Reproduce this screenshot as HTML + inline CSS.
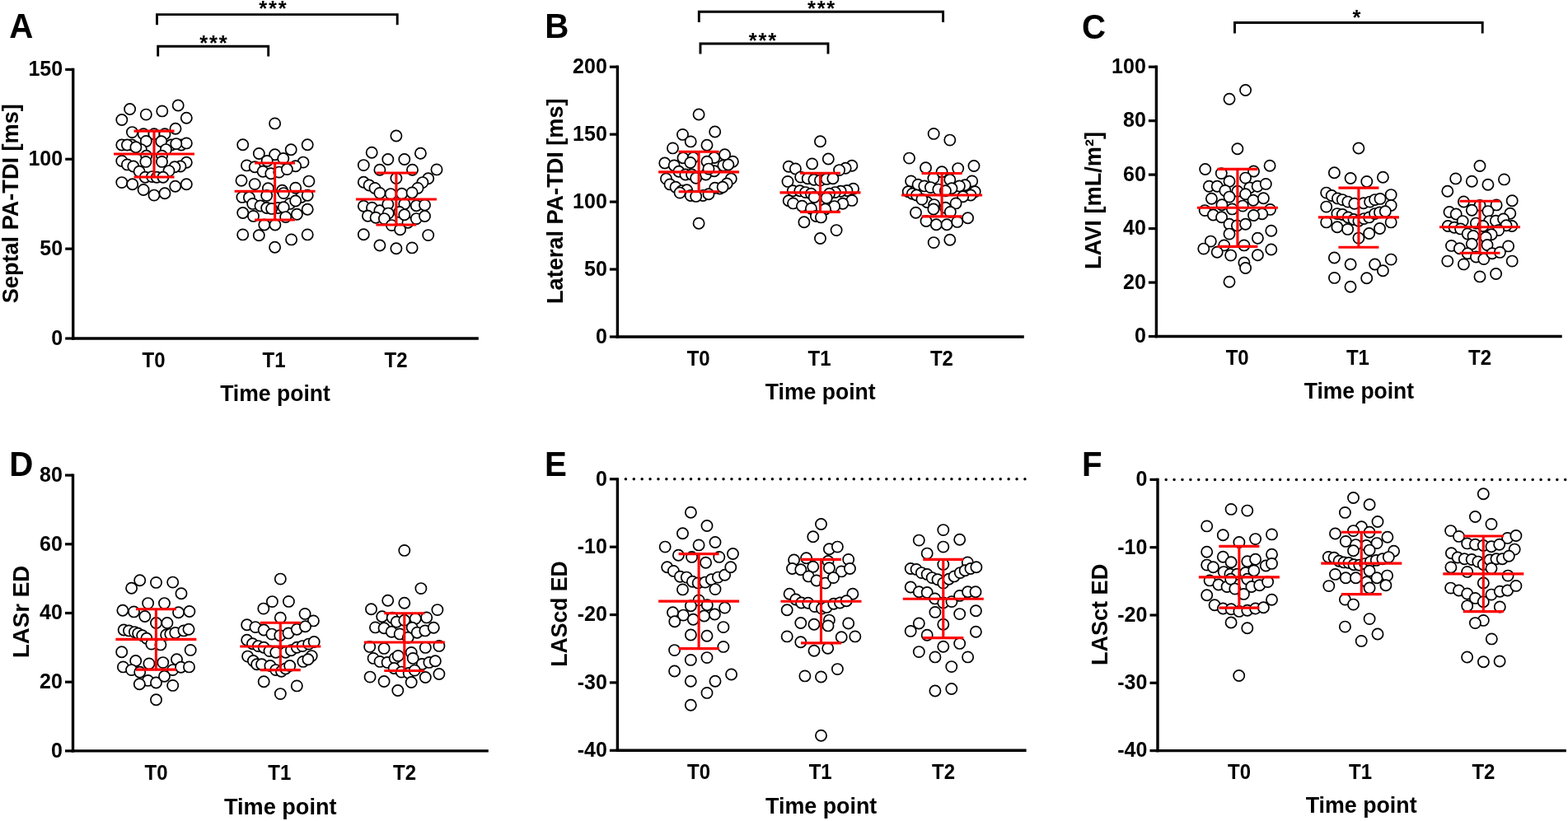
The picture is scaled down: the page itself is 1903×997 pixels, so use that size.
<!DOCTYPE html>
<html><head><meta charset="utf-8"><title>Figure</title>
<style>html,body{margin:0;padding:0;background:#fff;overflow:hidden;}svg{display:block;}
text{font-family:"Liberation Sans", Arial, sans-serif;fill:#000;}
circle{fill:#fff;stroke:#000;stroke-width:1.7;}</style></head>
<body><svg width="1903" height="997" viewBox="0 0 1903 997">
<rect width="1903" height="997" fill="#fff"/>
<line x1="88.70" y1="82.80" x2="88.70" y2="412.70" stroke="#000" stroke-width="3.4"/>
<line x1="87.00" y1="411.00" x2="580.80" y2="411.00" stroke="#000" stroke-width="3.4"/>
<line x1="79.20" y1="411.00" x2="88.70" y2="411.00" stroke="#000" stroke-width="3.2"/>
<text x="76.10" y="418.80" text-anchor="end" font-size="25" font-weight="bold">0</text>
<line x1="79.20" y1="302.13" x2="88.70" y2="302.13" stroke="#000" stroke-width="3.2"/>
<text x="76.10" y="309.93" text-anchor="end" font-size="25" font-weight="bold">50</text>
<line x1="79.20" y1="193.27" x2="88.70" y2="193.27" stroke="#000" stroke-width="3.2"/>
<text x="76.10" y="201.07" text-anchor="end" font-size="25" font-weight="bold">100</text>
<line x1="79.20" y1="84.40" x2="88.70" y2="84.40" stroke="#000" stroke-width="3.2"/>
<text x="76.10" y="92.20" text-anchor="end" font-size="25" font-weight="bold">150</text>
<text transform="translate(186.60,445.80) scale(0.94,1)" text-anchor="middle" font-size="25.5" font-weight="bold">T0</text>
<text transform="translate(332.60,445.80) scale(0.94,1)" text-anchor="middle" font-size="25.5" font-weight="bold">T1</text>
<text transform="translate(480.60,445.80) scale(0.94,1)" text-anchor="middle" font-size="25.5" font-weight="bold">T2</text>
<text x="334.00" y="486.90" text-anchor="middle" font-size="27.6" font-weight="bold" textLength="133.7" lengthAdjust="spacingAndGlyphs">Time point</text>
<text transform="translate(21.60,247.20) rotate(-90)" text-anchor="middle" font-size="27.6" font-weight="bold" textLength="242.1" lengthAdjust="spacingAndGlyphs">Septal PA-TDI [ms]</text>
<text transform="translate(11.20,46.20) scale(0.955,1)" font-size="42.2" font-weight="bold">A</text>
<circle cx="157.6" cy="132.5" r="6.6"/>
<circle cx="177.3" cy="139.1" r="6.6"/>
<circle cx="196.8" cy="134.9" r="6.6"/>
<circle cx="216.2" cy="128.0" r="6.6"/>
<circle cx="147.8" cy="145.5" r="6.6"/>
<circle cx="226.3" cy="143.3" r="6.6"/>
<circle cx="160.4" cy="160.6" r="6.6"/>
<circle cx="213.0" cy="156.3" r="6.6"/>
<circle cx="174.1" cy="162.7" r="6.6"/>
<circle cx="187.0" cy="162.7" r="6.6"/>
<circle cx="200.0" cy="162.7" r="6.6"/>
<circle cx="147.8" cy="176.0" r="6.6"/>
<circle cx="160.0" cy="176.0" r="6.6"/>
<circle cx="177.3" cy="171.4" r="6.6"/>
<circle cx="195.8" cy="171.8" r="6.6"/>
<circle cx="207.8" cy="176.0" r="6.6"/>
<circle cx="220.0" cy="176.0" r="6.6"/>
<circle cx="226.3" cy="173.9" r="6.6"/>
<circle cx="154.4" cy="176.0" r="6.6"/>
<circle cx="213.8" cy="174.6" r="6.6"/>
<circle cx="171.3" cy="181.6" r="6.6"/>
<circle cx="201.4" cy="181.6" r="6.6"/>
<circle cx="164.9" cy="178.8" r="6.6"/>
<circle cx="177.6" cy="189.3" r="6.6"/>
<circle cx="196.5" cy="189.3" r="6.6"/>
<circle cx="176.9" cy="196.4" r="6.6"/>
<circle cx="196.5" cy="196.4" r="6.6"/>
<circle cx="147.8" cy="195.4" r="6.6"/>
<circle cx="226.3" cy="197.3" r="6.6"/>
<circle cx="154.4" cy="199.9" r="6.6"/>
<circle cx="161.8" cy="202.0" r="6.6"/>
<circle cx="219.0" cy="202.0" r="6.6"/>
<circle cx="212.0" cy="202.7" r="6.6"/>
<circle cx="169.1" cy="208.3" r="6.6"/>
<circle cx="205.0" cy="207.6" r="6.6"/>
<circle cx="176.2" cy="215.3" r="6.6"/>
<circle cx="184.6" cy="214.6" r="6.6"/>
<circle cx="190.2" cy="215.3" r="6.6"/>
<circle cx="197.9" cy="215.3" r="6.6"/>
<circle cx="147.8" cy="221.6" r="6.6"/>
<circle cx="160.7" cy="223.7" r="6.6"/>
<circle cx="174.1" cy="230.5" r="6.6"/>
<circle cx="187.0" cy="237.1" r="6.6"/>
<circle cx="200.0" cy="234.7" r="6.6"/>
<circle cx="212.7" cy="226.3" r="6.6"/>
<circle cx="226.3" cy="223.7" r="6.6"/>
<circle cx="333.6" cy="149.9" r="6.6"/>
<circle cx="294.7" cy="175.8" r="6.6"/>
<circle cx="373.2" cy="175.8" r="6.6"/>
<circle cx="353.2" cy="181.8" r="6.6"/>
<circle cx="314.3" cy="186.5" r="6.6"/>
<circle cx="333.6" cy="187.7" r="6.6"/>
<circle cx="343.8" cy="192.5" r="6.6"/>
<circle cx="324.2" cy="195.4" r="6.6"/>
<circle cx="368.0" cy="197.1" r="6.6"/>
<circle cx="299.5" cy="200.9" r="6.6"/>
<circle cx="309.2" cy="202.7" r="6.6"/>
<circle cx="358.7" cy="201.7" r="6.6"/>
<circle cx="319.1" cy="208.2" r="6.6"/>
<circle cx="328.8" cy="210.8" r="6.6"/>
<circle cx="338.7" cy="209.1" r="6.6"/>
<circle cx="348.4" cy="205.6" r="6.6"/>
<circle cx="293.0" cy="219.3" r="6.6"/>
<circle cx="309.2" cy="223.6" r="6.6"/>
<circle cx="374.9" cy="220.1" r="6.6"/>
<circle cx="325.4" cy="228.7" r="6.6"/>
<circle cx="342.5" cy="231.2" r="6.6"/>
<circle cx="358.7" cy="228.3" r="6.6"/>
<circle cx="293.9" cy="239.4" r="6.6"/>
<circle cx="302.4" cy="239.7" r="6.6"/>
<circle cx="323.7" cy="237.5" r="6.6"/>
<circle cx="344.2" cy="234.6" r="6.6"/>
<circle cx="365.5" cy="239.4" r="6.6"/>
<circle cx="373.2" cy="237.2" r="6.6"/>
<circle cx="306.7" cy="247.4" r="6.6"/>
<circle cx="316.0" cy="250.0" r="6.6"/>
<circle cx="323.7" cy="252.5" r="6.6"/>
<circle cx="351.8" cy="247.4" r="6.6"/>
<circle cx="358.7" cy="244.0" r="6.6"/>
<circle cx="337.4" cy="252.5" r="6.6"/>
<circle cx="344.2" cy="251.7" r="6.6"/>
<circle cx="294.7" cy="258.5" r="6.6"/>
<circle cx="307.5" cy="262.4" r="6.6"/>
<circle cx="329.7" cy="253.4" r="6.6"/>
<circle cx="346.7" cy="263.6" r="6.6"/>
<circle cx="360.4" cy="260.2" r="6.6"/>
<circle cx="373.2" cy="254.2" r="6.6"/>
<circle cx="320.8" cy="273.0" r="6.6"/>
<circle cx="333.9" cy="273.0" r="6.6"/>
<circle cx="294.7" cy="284.9" r="6.6"/>
<circle cx="314.3" cy="285.8" r="6.6"/>
<circle cx="353.6" cy="290.9" r="6.6"/>
<circle cx="373.2" cy="284.9" r="6.6"/>
<circle cx="333.6" cy="300.3" r="6.6"/>
<circle cx="480.9" cy="165.0" r="6.6"/>
<circle cx="451.2" cy="185.3" r="6.6"/>
<circle cx="510.4" cy="186.3" r="6.6"/>
<circle cx="470.8" cy="193.5" r="6.6"/>
<circle cx="490.8" cy="193.5" r="6.6"/>
<circle cx="441.3" cy="200.6" r="6.6"/>
<circle cx="460.9" cy="206.3" r="6.6"/>
<circle cx="500.5" cy="206.3" r="6.6"/>
<circle cx="530.0" cy="205.9" r="6.6"/>
<circle cx="480.9" cy="216.5" r="6.6"/>
<circle cx="441.3" cy="221.3" r="6.6"/>
<circle cx="448.1" cy="225.0" r="6.6"/>
<circle cx="455.0" cy="228.4" r="6.6"/>
<circle cx="519.7" cy="216.8" r="6.6"/>
<circle cx="512.9" cy="221.6" r="6.6"/>
<circle cx="507.0" cy="228.4" r="6.6"/>
<circle cx="460.9" cy="234.4" r="6.6"/>
<circle cx="474.2" cy="235.6" r="6.6"/>
<circle cx="487.7" cy="235.3" r="6.6"/>
<circle cx="500.1" cy="233.9" r="6.6"/>
<circle cx="441.3" cy="250.3" r="6.6"/>
<circle cx="451.5" cy="252.3" r="6.6"/>
<circle cx="460.9" cy="255.7" r="6.6"/>
<circle cx="470.8" cy="248.0" r="6.6"/>
<circle cx="490.8" cy="247.7" r="6.6"/>
<circle cx="505.3" cy="249.7" r="6.6"/>
<circle cx="515.5" cy="248.9" r="6.6"/>
<circle cx="495.0" cy="270.2" r="6.6"/>
<circle cx="471.2" cy="259.1" r="6.6"/>
<circle cx="484.8" cy="257.4" r="6.6"/>
<circle cx="446.4" cy="262.2" r="6.6"/>
<circle cx="456.1" cy="264.2" r="6.6"/>
<circle cx="466.4" cy="265.6" r="6.6"/>
<circle cx="490.8" cy="260.8" r="6.6"/>
<circle cx="505.3" cy="265.6" r="6.6"/>
<circle cx="515.5" cy="262.5" r="6.6"/>
<circle cx="475.4" cy="273.6" r="6.6"/>
<circle cx="485.6" cy="278.7" r="6.6"/>
<circle cx="441.3" cy="284.7" r="6.6"/>
<circle cx="519.7" cy="285.6" r="6.6"/>
<circle cx="460.9" cy="298.0" r="6.6"/>
<circle cx="480.9" cy="301.8" r="6.6"/>
<circle cx="500.1" cy="300.9" r="6.6"/>
<path d="M138.0 187.0H236.0M162.5 159.1H211.5M162.5 215.0H211.5M187.0 159.1V215.0" stroke="#ff0000" stroke-width="3.1" fill="none"/>
<path d="M284.6 232.2H382.6M309.1 198.0H358.1M309.1 267.0H358.1M333.6 198.0V267.0" stroke="#ff0000" stroke-width="3.1" fill="none"/>
<path d="M431.9 242.0H529.9M456.4 210.0H505.4M456.4 273.0H505.4M480.9 210.0V273.0" stroke="#ff0000" stroke-width="3.1" fill="none"/>
<path d="M190.5 30.3V17.6H482.2V30.3" stroke="#000" stroke-width="2.9" fill="none" stroke-linejoin="miter" stroke-linecap="butt"/>
<text x="331.9" y="19.4" text-anchor="middle" font-size="25.5" font-weight="bold" letter-spacing="1.8">***</text>
<path d="M191.7 68.6V56.3H325.7V68.6" stroke="#000" stroke-width="2.9" fill="none" stroke-linejoin="miter" stroke-linecap="butt"/>
<text x="259.9" y="61.4" text-anchor="middle" font-size="25.5" font-weight="bold" letter-spacing="1.8">***</text>
<line x1="749.40" y1="79.60" x2="749.40" y2="410.70" stroke="#000" stroke-width="3.4"/>
<line x1="747.70" y1="409.00" x2="1242.80" y2="409.00" stroke="#000" stroke-width="3.4"/>
<line x1="739.90" y1="409.00" x2="749.40" y2="409.00" stroke="#000" stroke-width="3.2"/>
<text x="736.80" y="416.80" text-anchor="end" font-size="25" font-weight="bold">0</text>
<line x1="739.90" y1="327.05" x2="749.40" y2="327.05" stroke="#000" stroke-width="3.2"/>
<text x="736.80" y="334.85" text-anchor="end" font-size="25" font-weight="bold">50</text>
<line x1="739.90" y1="245.10" x2="749.40" y2="245.10" stroke="#000" stroke-width="3.2"/>
<text x="736.80" y="252.90" text-anchor="end" font-size="25" font-weight="bold">100</text>
<line x1="739.90" y1="163.15" x2="749.40" y2="163.15" stroke="#000" stroke-width="3.2"/>
<text x="736.80" y="170.95" text-anchor="end" font-size="25" font-weight="bold">150</text>
<line x1="739.90" y1="81.20" x2="749.40" y2="81.20" stroke="#000" stroke-width="3.2"/>
<text x="736.80" y="89.00" text-anchor="end" font-size="25" font-weight="bold">200</text>
<text transform="translate(847.70,443.80) scale(0.94,1)" text-anchor="middle" font-size="25.5" font-weight="bold">T0</text>
<text transform="translate(994.50,443.80) scale(0.94,1)" text-anchor="middle" font-size="25.5" font-weight="bold">T1</text>
<text transform="translate(1142.90,443.80) scale(0.94,1)" text-anchor="middle" font-size="25.5" font-weight="bold">T2</text>
<text x="995.70" y="485.40" text-anchor="middle" font-size="27.6" font-weight="bold" textLength="133.8" lengthAdjust="spacingAndGlyphs">Time point</text>
<text transform="translate(682.90,244.20) rotate(-90)" text-anchor="middle" font-size="27.6" font-weight="bold" textLength="249.6" lengthAdjust="spacingAndGlyphs">Lateral PA-TDI [ms]</text>
<text transform="translate(661.30,46.30) scale(0.955,1)" font-size="42.2" font-weight="bold">B</text>
<circle cx="848.1" cy="139.0" r="6.6"/>
<circle cx="867.7" cy="160.0" r="6.6"/>
<circle cx="828.5" cy="163.4" r="6.6"/>
<circle cx="838.2" cy="171.9" r="6.6"/>
<circle cx="858.0" cy="176.2" r="6.6"/>
<circle cx="816.5" cy="179.9" r="6.6"/>
<circle cx="879.6" cy="187.7" r="6.6"/>
<circle cx="829.0" cy="191.8" r="6.6"/>
<circle cx="841.3" cy="191.5" r="6.6"/>
<circle cx="866.8" cy="191.5" r="6.6"/>
<circle cx="889.4" cy="196.3" r="6.6"/>
<circle cx="806.8" cy="198.0" r="6.6"/>
<circle cx="818.2" cy="200.9" r="6.6"/>
<circle cx="858.0" cy="196.3" r="6.6"/>
<circle cx="877.9" cy="200.9" r="6.6"/>
<circle cx="883.9" cy="200.0" r="6.6"/>
<circle cx="837.9" cy="197.5" r="6.6"/>
<circle cx="823.9" cy="208.2" r="6.6"/>
<circle cx="831.9" cy="212.0" r="6.6"/>
<circle cx="839.6" cy="212.0" r="6.6"/>
<circle cx="856.6" cy="212.0" r="6.6"/>
<circle cx="866.8" cy="207.7" r="6.6"/>
<circle cx="860.0" cy="205.1" r="6.6"/>
<circle cx="808.5" cy="217.1" r="6.6"/>
<circle cx="813.1" cy="223.9" r="6.6"/>
<circle cx="820.0" cy="227.3" r="6.6"/>
<circle cx="844.7" cy="216.2" r="6.6"/>
<circle cx="887.3" cy="217.1" r="6.6"/>
<circle cx="882.2" cy="223.0" r="6.6"/>
<circle cx="873.7" cy="229.0" r="6.6"/>
<circle cx="867.7" cy="228.2" r="6.6"/>
<circle cx="827.6" cy="231.6" r="6.6"/>
<circle cx="833.6" cy="230.7" r="6.6"/>
<circle cx="838.2" cy="237.5" r="6.6"/>
<circle cx="853.2" cy="237.5" r="6.6"/>
<circle cx="860.0" cy="235.8" r="6.6"/>
<circle cx="844.7" cy="238.4" r="6.6"/>
<circle cx="848.1" cy="271.3" r="6.6"/>
<circle cx="825.1" cy="234.1" r="6.6"/>
<circle cx="877.1" cy="227.3" r="6.6"/>
<circle cx="995.5" cy="171.7" r="6.6"/>
<circle cx="1005.3" cy="193.0" r="6.6"/>
<circle cx="985.6" cy="198.9" r="6.6"/>
<circle cx="957.2" cy="202.3" r="6.6"/>
<circle cx="965.4" cy="204.9" r="6.6"/>
<circle cx="1033.9" cy="201.2" r="6.6"/>
<circle cx="1026.2" cy="204.2" r="6.6"/>
<circle cx="1018.6" cy="206.6" r="6.6"/>
<circle cx="971.7" cy="215.1" r="6.6"/>
<circle cx="980.2" cy="216.8" r="6.6"/>
<circle cx="987.9" cy="218.2" r="6.6"/>
<circle cx="995.5" cy="219.1" r="6.6"/>
<circle cx="1003.2" cy="217.4" r="6.6"/>
<circle cx="1010.9" cy="216.8" r="6.6"/>
<circle cx="956.0" cy="220.4" r="6.6"/>
<circle cx="962.3" cy="231.8" r="6.6"/>
<circle cx="970.8" cy="231.8" r="6.6"/>
<circle cx="977.6" cy="233.6" r="6.6"/>
<circle cx="984.4" cy="235.3" r="6.6"/>
<circle cx="1035.6" cy="229.3" r="6.6"/>
<circle cx="1027.9" cy="231.5" r="6.6"/>
<circle cx="1020.3" cy="232.2" r="6.6"/>
<circle cx="1013.4" cy="233.6" r="6.6"/>
<circle cx="1006.6" cy="235.3" r="6.6"/>
<circle cx="988.2" cy="239.5" r="6.6"/>
<circle cx="1003.2" cy="240.4" r="6.6"/>
<circle cx="957.2" cy="243.8" r="6.6"/>
<circle cx="962.6" cy="246.9" r="6.6"/>
<circle cx="973.4" cy="250.3" r="6.6"/>
<circle cx="984.4" cy="253.2" r="6.6"/>
<circle cx="1033.9" cy="243.4" r="6.6"/>
<circle cx="1022.8" cy="247.2" r="6.6"/>
<circle cx="1012.6" cy="250.6" r="6.6"/>
<circle cx="1001.5" cy="254.0" r="6.6"/>
<circle cx="990.4" cy="262.5" r="6.6"/>
<circle cx="996.4" cy="263.9" r="6.6"/>
<circle cx="975.9" cy="269.7" r="6.6"/>
<circle cx="1015.1" cy="279.6" r="6.6"/>
<circle cx="995.5" cy="289.5" r="6.6"/>
<circle cx="1133.2" cy="162.4" r="6.6"/>
<circle cx="1152.8" cy="170.1" r="6.6"/>
<circle cx="1103.5" cy="192.1" r="6.6"/>
<circle cx="1182.0" cy="201.5" r="6.6"/>
<circle cx="1123.5" cy="203.7" r="6.6"/>
<circle cx="1143.1" cy="208.8" r="6.6"/>
<circle cx="1162.7" cy="204.6" r="6.6"/>
<circle cx="1132.9" cy="216.5" r="6.6"/>
<circle cx="1152.8" cy="218.2" r="6.6"/>
<circle cx="1105.6" cy="219.9" r="6.6"/>
<circle cx="1114.1" cy="224.2" r="6.6"/>
<circle cx="1121.8" cy="225.9" r="6.6"/>
<circle cx="1179.7" cy="219.9" r="6.6"/>
<circle cx="1171.2" cy="224.7" r="6.6"/>
<circle cx="1164.4" cy="225.9" r="6.6"/>
<circle cx="1129.4" cy="227.6" r="6.6"/>
<circle cx="1138.8" cy="230.1" r="6.6"/>
<circle cx="1155.0" cy="228.8" r="6.6"/>
<circle cx="1147.4" cy="231.8" r="6.6"/>
<circle cx="1102.2" cy="232.7" r="6.6"/>
<circle cx="1107.3" cy="235.3" r="6.6"/>
<circle cx="1112.4" cy="237.0" r="6.6"/>
<circle cx="1183.2" cy="232.7" r="6.6"/>
<circle cx="1178.0" cy="237.0" r="6.6"/>
<circle cx="1168.7" cy="238.7" r="6.6"/>
<circle cx="1125.2" cy="245.5" r="6.6"/>
<circle cx="1133.7" cy="248.6" r="6.6"/>
<circle cx="1160.1" cy="246.9" r="6.6"/>
<circle cx="1147.4" cy="252.3" r="6.6"/>
<circle cx="1132.9" cy="254.0" r="6.6"/>
<circle cx="1153.3" cy="257.4" r="6.6"/>
<circle cx="1111.5" cy="258.3" r="6.6"/>
<circle cx="1174.6" cy="264.8" r="6.6"/>
<circle cx="1124.0" cy="268.5" r="6.6"/>
<circle cx="1136.3" cy="272.8" r="6.6"/>
<circle cx="1149.1" cy="272.8" r="6.6"/>
<circle cx="1161.8" cy="269.4" r="6.6"/>
<circle cx="1133.2" cy="294.6" r="6.6"/>
<circle cx="1152.8" cy="291.2" r="6.6"/>
<circle cx="1118.9" cy="242.1" r="6.6"/>
<path d="M799.1 208.9H897.1M823.6 184.3H872.6M823.6 232.8H872.6M848.1 184.3V232.8" stroke="#ff0000" stroke-width="3.1" fill="none"/>
<path d="M946.5 233.9H1044.5M971.0 210.2H1020.0M971.0 257.4H1020.0M995.5 210.2V257.4" stroke="#ff0000" stroke-width="3.1" fill="none"/>
<path d="M1094.1 237.0H1192.1M1118.6 210.5H1167.6M1118.6 262.9H1167.6M1143.1 210.5V262.9" stroke="#ff0000" stroke-width="3.1" fill="none"/>
<path d="M848.3 26.9V14.3H1144.6V26.9" stroke="#000" stroke-width="2.9" fill="none" stroke-linejoin="miter" stroke-linecap="butt"/>
<text x="997.5" y="19.4" text-anchor="middle" font-size="25.5" font-weight="bold" letter-spacing="1.8">***</text>
<path d="M850.0 65.6V53.0H1005.0V65.6" stroke="#000" stroke-width="2.9" fill="none" stroke-linejoin="miter" stroke-linecap="butt"/>
<text x="926.3" y="58.4" text-anchor="middle" font-size="25.5" font-weight="bold" letter-spacing="1.8">***</text>
<line x1="1403.40" y1="79.60" x2="1403.40" y2="410.20" stroke="#000" stroke-width="3.4"/>
<line x1="1401.70" y1="408.50" x2="1895.70" y2="408.50" stroke="#000" stroke-width="3.4"/>
<line x1="1393.90" y1="408.50" x2="1403.40" y2="408.50" stroke="#000" stroke-width="3.2"/>
<text x="1390.80" y="416.30" text-anchor="end" font-size="25" font-weight="bold">0</text>
<line x1="1393.90" y1="343.04" x2="1403.40" y2="343.04" stroke="#000" stroke-width="3.2"/>
<text x="1390.80" y="350.84" text-anchor="end" font-size="25" font-weight="bold">20</text>
<line x1="1393.90" y1="277.58" x2="1403.40" y2="277.58" stroke="#000" stroke-width="3.2"/>
<text x="1390.80" y="285.38" text-anchor="end" font-size="25" font-weight="bold">40</text>
<line x1="1393.90" y1="212.12" x2="1403.40" y2="212.12" stroke="#000" stroke-width="3.2"/>
<text x="1390.80" y="219.92" text-anchor="end" font-size="25" font-weight="bold">60</text>
<line x1="1393.90" y1="146.66" x2="1403.40" y2="146.66" stroke="#000" stroke-width="3.2"/>
<text x="1390.80" y="154.46" text-anchor="end" font-size="25" font-weight="bold">80</text>
<line x1="1393.90" y1="81.20" x2="1403.40" y2="81.20" stroke="#000" stroke-width="3.2"/>
<text x="1390.80" y="89.00" text-anchor="end" font-size="25" font-weight="bold">100</text>
<text transform="translate(1501.70,443.30) scale(0.94,1)" text-anchor="middle" font-size="25.5" font-weight="bold">T0</text>
<text transform="translate(1647.90,443.30) scale(0.94,1)" text-anchor="middle" font-size="25.5" font-weight="bold">T1</text>
<text transform="translate(1796.00,443.30) scale(0.94,1)" text-anchor="middle" font-size="25.5" font-weight="bold">T2</text>
<text x="1649.40" y="483.50" text-anchor="middle" font-size="27.6" font-weight="bold" textLength="133.4" lengthAdjust="spacingAndGlyphs">Time point</text>
<text transform="translate(1335.60,243.50) rotate(-90)" text-anchor="middle" font-size="27.6" font-weight="bold" textLength="167.2" lengthAdjust="spacingAndGlyphs">LAVI [mL/m²]</text>
<text transform="translate(1313.00,46.90) scale(0.955,1)" font-size="42.2" font-weight="bold">C</text>
<circle cx="1511.6" cy="109.5" r="6.6"/>
<circle cx="1492.0" cy="120.2" r="6.6"/>
<circle cx="1501.9" cy="180.8" r="6.6"/>
<circle cx="1462.7" cy="205.5" r="6.6"/>
<circle cx="1541.1" cy="201.2" r="6.6"/>
<circle cx="1482.3" cy="210.6" r="6.6"/>
<circle cx="1521.5" cy="208.0" r="6.6"/>
<circle cx="1511.6" cy="216.1" r="6.6"/>
<circle cx="1492.0" cy="220.3" r="6.6"/>
<circle cx="1467.3" cy="226.3" r="6.6"/>
<circle cx="1477.2" cy="226.3" r="6.6"/>
<circle cx="1486.9" cy="231.4" r="6.6"/>
<circle cx="1501.9" cy="232.3" r="6.6"/>
<circle cx="1516.7" cy="228.0" r="6.6"/>
<circle cx="1526.1" cy="226.3" r="6.6"/>
<circle cx="1536.3" cy="223.4" r="6.6"/>
<circle cx="1492.0" cy="239.1" r="6.6"/>
<circle cx="1511.6" cy="235.7" r="6.6"/>
<circle cx="1470.4" cy="241.3" r="6.6"/>
<circle cx="1521.0" cy="243.3" r="6.6"/>
<circle cx="1533.4" cy="240.8" r="6.6"/>
<circle cx="1483.0" cy="248.8" r="6.6"/>
<circle cx="1495.4" cy="253.9" r="6.6"/>
<circle cx="1508.2" cy="250.1" r="6.6"/>
<circle cx="1462.2" cy="255.6" r="6.6"/>
<circle cx="1472.4" cy="261.0" r="6.6"/>
<circle cx="1482.6" cy="263.8" r="6.6"/>
<circle cx="1541.5" cy="254.4" r="6.6"/>
<circle cx="1531.7" cy="259.8" r="6.6"/>
<circle cx="1521.5" cy="261.5" r="6.6"/>
<circle cx="1492.0" cy="272.3" r="6.6"/>
<circle cx="1501.4" cy="274.0" r="6.6"/>
<circle cx="1511.6" cy="272.3" r="6.6"/>
<circle cx="1542.8" cy="280.3" r="6.6"/>
<circle cx="1492.0" cy="284.1" r="6.6"/>
<circle cx="1526.4" cy="289.3" r="6.6"/>
<circle cx="1469.3" cy="293.1" r="6.6"/>
<circle cx="1485.7" cy="297.9" r="6.6"/>
<circle cx="1509.9" cy="297.9" r="6.6"/>
<circle cx="1460.8" cy="302.1" r="6.6"/>
<circle cx="1477.2" cy="306.2" r="6.6"/>
<circle cx="1493.7" cy="310.1" r="6.6"/>
<circle cx="1526.4" cy="309.8" r="6.6"/>
<circle cx="1542.8" cy="303.0" r="6.6"/>
<circle cx="1509.9" cy="319.0" r="6.6"/>
<circle cx="1511.6" cy="325.5" r="6.6"/>
<circle cx="1492.0" cy="342.2" r="6.6"/>
<circle cx="1648.9" cy="180.0" r="6.6"/>
<circle cx="1619.4" cy="209.7" r="6.6"/>
<circle cx="1639.1" cy="216.5" r="6.6"/>
<circle cx="1658.8" cy="220.4" r="6.6"/>
<circle cx="1678.4" cy="215.3" r="6.6"/>
<circle cx="1609.7" cy="234.1" r="6.6"/>
<circle cx="1616.2" cy="237.5" r="6.6"/>
<circle cx="1623.4" cy="240.9" r="6.6"/>
<circle cx="1629.3" cy="242.6" r="6.6"/>
<circle cx="1635.8" cy="245.1" r="6.6"/>
<circle cx="1643.8" cy="247.2" r="6.6"/>
<circle cx="1654.9" cy="246.8" r="6.6"/>
<circle cx="1662.6" cy="245.1" r="6.6"/>
<circle cx="1668.6" cy="242.6" r="6.6"/>
<circle cx="1675.0" cy="241.4" r="6.6"/>
<circle cx="1688.2" cy="236.6" r="6.6"/>
<circle cx="1609.7" cy="251.1" r="6.6"/>
<circle cx="1688.2" cy="249.4" r="6.6"/>
<circle cx="1622.9" cy="259.6" r="6.6"/>
<circle cx="1629.3" cy="260.5" r="6.6"/>
<circle cx="1636.2" cy="263.9" r="6.6"/>
<circle cx="1643.0" cy="266.5" r="6.6"/>
<circle cx="1648.9" cy="268.2" r="6.6"/>
<circle cx="1655.4" cy="265.6" r="6.6"/>
<circle cx="1661.7" cy="263.9" r="6.6"/>
<circle cx="1668.6" cy="259.6" r="6.6"/>
<circle cx="1674.5" cy="257.9" r="6.6"/>
<circle cx="1681.3" cy="256.7" r="6.6"/>
<circle cx="1609.7" cy="269.9" r="6.6"/>
<circle cx="1622.9" cy="275.8" r="6.6"/>
<circle cx="1635.6" cy="278.4" r="6.6"/>
<circle cx="1661.7" cy="283.5" r="6.6"/>
<circle cx="1674.5" cy="277.5" r="6.6"/>
<circle cx="1688.2" cy="269.9" r="6.6"/>
<circle cx="1648.9" cy="289.1" r="6.6"/>
<circle cx="1619.4" cy="313.0" r="6.6"/>
<circle cx="1639.1" cy="321.0" r="6.6"/>
<circle cx="1668.6" cy="321.0" r="6.6"/>
<circle cx="1688.2" cy="315.1" r="6.6"/>
<circle cx="1678.4" cy="328.7" r="6.6"/>
<circle cx="1619.5" cy="337.4" r="6.6"/>
<circle cx="1658.7" cy="337.7" r="6.6"/>
<circle cx="1639.0" cy="348.3" r="6.6"/>
<circle cx="1796.0" cy="201.5" r="6.6"/>
<circle cx="1766.7" cy="216.9" r="6.6"/>
<circle cx="1786.3" cy="220.3" r="6.6"/>
<circle cx="1805.9" cy="224.2" r="6.6"/>
<circle cx="1825.5" cy="217.9" r="6.6"/>
<circle cx="1756.8" cy="232.2" r="6.6"/>
<circle cx="1776.4" cy="245.0" r="6.6"/>
<circle cx="1816.1" cy="248.9" r="6.6"/>
<circle cx="1835.2" cy="243.8" r="6.6"/>
<circle cx="1796.0" cy="249.5" r="6.6"/>
<circle cx="1759.0" cy="257.5" r="6.6"/>
<circle cx="1767.2" cy="260.0" r="6.6"/>
<circle cx="1786.3" cy="255.3" r="6.6"/>
<circle cx="1805.9" cy="256.6" r="6.6"/>
<circle cx="1832.8" cy="259.2" r="6.6"/>
<circle cx="1775.2" cy="268.6" r="6.6"/>
<circle cx="1791.4" cy="271.1" r="6.6"/>
<circle cx="1807.6" cy="268.6" r="6.6"/>
<circle cx="1815.3" cy="268.2" r="6.6"/>
<circle cx="1824.6" cy="266.0" r="6.6"/>
<circle cx="1757.3" cy="274.5" r="6.6"/>
<circle cx="1765.0" cy="276.2" r="6.6"/>
<circle cx="1772.6" cy="277.9" r="6.6"/>
<circle cx="1799.9" cy="274.5" r="6.6"/>
<circle cx="1834.9" cy="274.5" r="6.6"/>
<circle cx="1828.0" cy="273.7" r="6.6"/>
<circle cx="1818.7" cy="279.6" r="6.6"/>
<circle cx="1781.2" cy="283.9" r="6.6"/>
<circle cx="1788.0" cy="286.5" r="6.6"/>
<circle cx="1810.1" cy="284.7" r="6.6"/>
<circle cx="1803.3" cy="288.2" r="6.6"/>
<circle cx="1786.3" cy="296.2" r="6.6"/>
<circle cx="1805.0" cy="297.5" r="6.6"/>
<circle cx="1761.5" cy="298.4" r="6.6"/>
<circle cx="1771.4" cy="301.8" r="6.6"/>
<circle cx="1830.6" cy="298.9" r="6.6"/>
<circle cx="1781.2" cy="307.8" r="6.6"/>
<circle cx="1791.4" cy="312.0" r="6.6"/>
<circle cx="1800.8" cy="314.6" r="6.6"/>
<circle cx="1811.0" cy="307.8" r="6.6"/>
<circle cx="1820.4" cy="306.4" r="6.6"/>
<circle cx="1756.8" cy="317.1" r="6.6"/>
<circle cx="1776.4" cy="320.9" r="6.6"/>
<circle cx="1835.2" cy="317.1" r="6.6"/>
<circle cx="1796.0" cy="335.9" r="6.6"/>
<circle cx="1815.6" cy="332.5" r="6.6"/>
<path d="M1452.9 252.2H1550.9M1477.4 205.4H1526.4M1477.4 299.4H1526.4M1501.9 205.4V299.4" stroke="#ff0000" stroke-width="3.1" fill="none"/>
<path d="M1599.9 263.9H1697.9M1624.4 228.1H1673.4M1624.4 300.2H1673.4M1648.9 228.1V300.2" stroke="#ff0000" stroke-width="3.1" fill="none"/>
<path d="M1747.0 275.7H1845.0M1771.5 244.3H1820.5M1771.5 307.3H1820.5M1796.0 244.3V307.3" stroke="#ff0000" stroke-width="3.1" fill="none"/>
<path d="M1498.5 40.4V27.5H1799.2V40.4" stroke="#000" stroke-width="2.9" fill="none" stroke-linejoin="miter" stroke-linecap="butt"/>
<text x="1646.4" y="30.4" text-anchor="middle" font-size="25.5" font-weight="bold" letter-spacing="0">*</text>
<line x1="88.50" y1="575.50" x2="88.50" y2="913.60" stroke="#000" stroke-width="3.4"/>
<line x1="86.80" y1="911.90" x2="592.80" y2="911.90" stroke="#000" stroke-width="3.4"/>
<line x1="79.00" y1="911.90" x2="88.50" y2="911.90" stroke="#000" stroke-width="3.2"/>
<text x="75.90" y="919.70" text-anchor="end" font-size="25" font-weight="bold">0</text>
<line x1="79.00" y1="828.20" x2="88.50" y2="828.20" stroke="#000" stroke-width="3.2"/>
<text x="75.90" y="836.00" text-anchor="end" font-size="25" font-weight="bold">20</text>
<line x1="79.00" y1="744.50" x2="88.50" y2="744.50" stroke="#000" stroke-width="3.2"/>
<text x="75.90" y="752.30" text-anchor="end" font-size="25" font-weight="bold">40</text>
<line x1="79.00" y1="660.80" x2="88.50" y2="660.80" stroke="#000" stroke-width="3.2"/>
<text x="75.90" y="668.60" text-anchor="end" font-size="25" font-weight="bold">60</text>
<line x1="79.00" y1="577.10" x2="88.50" y2="577.10" stroke="#000" stroke-width="3.2"/>
<text x="75.90" y="584.90" text-anchor="end" font-size="25" font-weight="bold">80</text>
<text transform="translate(189.60,946.70) scale(0.94,1)" text-anchor="middle" font-size="25.5" font-weight="bold">T0</text>
<text transform="translate(339.30,946.70) scale(0.94,1)" text-anchor="middle" font-size="25.5" font-weight="bold">T1</text>
<text transform="translate(491.00,946.70) scale(0.94,1)" text-anchor="middle" font-size="25.5" font-weight="bold">T2</text>
<text x="340.25" y="989.00" text-anchor="middle" font-size="27.6" font-weight="bold" textLength="136.5" lengthAdjust="spacingAndGlyphs">Time point</text>
<text transform="translate(35.20,742.90) rotate(-90)" text-anchor="middle" font-size="27.6" font-weight="bold" textLength="112.3" lengthAdjust="spacingAndGlyphs">LASr ED</text>
<text transform="translate(11.20,577.80) scale(0.955,1)" font-size="42.2" font-weight="bold">D</text>
<circle cx="169.7" cy="704.8" r="6.6"/>
<circle cx="189.5" cy="707.4" r="6.6"/>
<circle cx="209.7" cy="707.1" r="6.6"/>
<circle cx="159.6" cy="714.2" r="6.6"/>
<circle cx="220.0" cy="720.7" r="6.6"/>
<circle cx="179.6" cy="732.6" r="6.6"/>
<circle cx="199.5" cy="732.6" r="6.6"/>
<circle cx="148.9" cy="741.2" r="6.6"/>
<circle cx="162.5" cy="742.9" r="6.6"/>
<circle cx="175.8" cy="748.5" r="6.6"/>
<circle cx="216.6" cy="743.7" r="6.6"/>
<circle cx="229.9" cy="742.5" r="6.6"/>
<circle cx="189.5" cy="756.5" r="6.6"/>
<circle cx="202.9" cy="756.5" r="6.6"/>
<circle cx="150.2" cy="765.0" r="6.6"/>
<circle cx="156.5" cy="765.9" r="6.6"/>
<circle cx="163.4" cy="767.6" r="6.6"/>
<circle cx="167.6" cy="769.3" r="6.6"/>
<circle cx="172.7" cy="771.8" r="6.6"/>
<circle cx="177.9" cy="775.3" r="6.6"/>
<circle cx="183.8" cy="782.1" r="6.6"/>
<circle cx="194.9" cy="782.9" r="6.6"/>
<circle cx="201.7" cy="771.0" r="6.6"/>
<circle cx="206.8" cy="770.1" r="6.6"/>
<circle cx="212.8" cy="768.4" r="6.6"/>
<circle cx="223.0" cy="765.9" r="6.6"/>
<circle cx="229.0" cy="764.2" r="6.6"/>
<circle cx="147.7" cy="791.8" r="6.6"/>
<circle cx="231.2" cy="789.4" r="6.6"/>
<circle cx="164.7" cy="802.5" r="6.6"/>
<circle cx="180.9" cy="805.9" r="6.6"/>
<circle cx="197.8" cy="804.6" r="6.6"/>
<circle cx="214.5" cy="800.8" r="6.6"/>
<circle cx="149.4" cy="809.9" r="6.6"/>
<circle cx="159.6" cy="813.6" r="6.6"/>
<circle cx="169.7" cy="816.2" r="6.6"/>
<circle cx="209.7" cy="813.6" r="6.6"/>
<circle cx="219.6" cy="810.2" r="6.6"/>
<circle cx="229.5" cy="809.9" r="6.6"/>
<circle cx="179.6" cy="826.4" r="6.6"/>
<circle cx="189.5" cy="829.0" r="6.6"/>
<circle cx="199.5" cy="821.3" r="6.6"/>
<circle cx="169.3" cy="830.7" r="6.6"/>
<circle cx="209.7" cy="832.4" r="6.6"/>
<circle cx="189.5" cy="849.8" r="6.6"/>
<circle cx="340.3" cy="703.1" r="6.6"/>
<circle cx="330.4" cy="730.6" r="6.6"/>
<circle cx="350.4" cy="730.4" r="6.6"/>
<circle cx="319.8" cy="739.1" r="6.6"/>
<circle cx="370.1" cy="745.4" r="6.6"/>
<circle cx="340.3" cy="750.2" r="6.6"/>
<circle cx="380.4" cy="753.9" r="6.6"/>
<circle cx="299.7" cy="758.7" r="6.6"/>
<circle cx="310.0" cy="761.6" r="6.6"/>
<circle cx="320.2" cy="765.0" r="6.6"/>
<circle cx="329.9" cy="770.1" r="6.6"/>
<circle cx="339.8" cy="771.8" r="6.6"/>
<circle cx="350.0" cy="768.9" r="6.6"/>
<circle cx="360.3" cy="764.2" r="6.6"/>
<circle cx="370.5" cy="760.8" r="6.6"/>
<circle cx="299.7" cy="777.3" r="6.6"/>
<circle cx="306.5" cy="781.7" r="6.6"/>
<circle cx="313.4" cy="784.6" r="6.6"/>
<circle cx="320.2" cy="786.3" r="6.6"/>
<circle cx="327.0" cy="790.6" r="6.6"/>
<circle cx="334.7" cy="792.3" r="6.6"/>
<circle cx="346.6" cy="792.3" r="6.6"/>
<circle cx="353.4" cy="789.7" r="6.6"/>
<circle cx="360.3" cy="786.3" r="6.6"/>
<circle cx="367.1" cy="784.6" r="6.6"/>
<circle cx="374.7" cy="782.1" r="6.6"/>
<circle cx="381.2" cy="779.5" r="6.6"/>
<circle cx="300.6" cy="797.1" r="6.6"/>
<circle cx="307.4" cy="802.5" r="6.6"/>
<circle cx="311.7" cy="806.8" r="6.6"/>
<circle cx="317.6" cy="806.8" r="6.6"/>
<circle cx="327.9" cy="808.5" r="6.6"/>
<circle cx="334.7" cy="813.6" r="6.6"/>
<circle cx="341.5" cy="815.3" r="6.6"/>
<circle cx="346.6" cy="811.9" r="6.6"/>
<circle cx="351.7" cy="808.5" r="6.6"/>
<circle cx="367.9" cy="803.4" r="6.6"/>
<circle cx="378.2" cy="796.6" r="6.6"/>
<circle cx="373.9" cy="800.8" r="6.6"/>
<circle cx="320.2" cy="827.8" r="6.6"/>
<circle cx="360.3" cy="832.9" r="6.6"/>
<circle cx="340.3" cy="842.6" r="6.6"/>
<circle cx="490.8" cy="668.4" r="6.6"/>
<circle cx="510.9" cy="714.6" r="6.6"/>
<circle cx="470.7" cy="729.2" r="6.6"/>
<circle cx="490.8" cy="732.2" r="6.6"/>
<circle cx="450.5" cy="739.8" r="6.6"/>
<circle cx="530.9" cy="740.6" r="6.6"/>
<circle cx="463.7" cy="748.7" r="6.6"/>
<circle cx="476.2" cy="750.3" r="6.6"/>
<circle cx="481.2" cy="755.3" r="6.6"/>
<circle cx="490.8" cy="753.3" r="6.6"/>
<circle cx="504.2" cy="751.3" r="6.6"/>
<circle cx="517.7" cy="749.9" r="6.6"/>
<circle cx="455.5" cy="761.9" r="6.6"/>
<circle cx="466.1" cy="762.7" r="6.6"/>
<circle cx="475.2" cy="767.3" r="6.6"/>
<circle cx="485.2" cy="769.9" r="6.6"/>
<circle cx="495.2" cy="774.3" r="6.6"/>
<circle cx="500.2" cy="762.3" r="6.6"/>
<circle cx="506.2" cy="768.3" r="6.6"/>
<circle cx="515.9" cy="765.9" r="6.6"/>
<circle cx="526.3" cy="762.3" r="6.6"/>
<circle cx="448.7" cy="785.4" r="6.6"/>
<circle cx="466.1" cy="787.4" r="6.6"/>
<circle cx="516.3" cy="786.4" r="6.6"/>
<circle cx="532.9" cy="784.4" r="6.6"/>
<circle cx="453.1" cy="799.4" r="6.6"/>
<circle cx="461.1" cy="803.4" r="6.6"/>
<circle cx="470.1" cy="804.4" r="6.6"/>
<circle cx="479.2" cy="799.4" r="6.6"/>
<circle cx="483.2" cy="796.4" r="6.6"/>
<circle cx="499.2" cy="792.4" r="6.6"/>
<circle cx="501.2" cy="799.4" r="6.6"/>
<circle cx="512.3" cy="806.4" r="6.6"/>
<circle cx="520.9" cy="804.4" r="6.6"/>
<circle cx="528.3" cy="802.8" r="6.6"/>
<circle cx="478.2" cy="811.5" r="6.6"/>
<circle cx="487.2" cy="816.1" r="6.6"/>
<circle cx="496.2" cy="817.5" r="6.6"/>
<circle cx="503.2" cy="814.1" r="6.6"/>
<circle cx="449.1" cy="822.1" r="6.6"/>
<circle cx="466.1" cy="827.5" r="6.6"/>
<circle cx="499.2" cy="828.5" r="6.6"/>
<circle cx="516.3" cy="822.5" r="6.6"/>
<circle cx="532.9" cy="818.5" r="6.6"/>
<circle cx="482.8" cy="838.5" r="6.6"/>
<path d="M140.4 776.4H238.4M164.9 739.8H213.9M164.9 813.1H213.9M189.4 739.8V813.1" stroke="#ff0000" stroke-width="3.1" fill="none"/>
<path d="M291.3 785.0H389.3M315.8 756.2H364.8M315.8 813.6H364.8M340.3 756.2V813.6" stroke="#ff0000" stroke-width="3.1" fill="none"/>
<path d="M441.8 780.0H539.8M466.3 744.7H515.3M466.3 814.5H515.3M490.8 744.7V814.5" stroke="#ff0000" stroke-width="3.1" fill="none"/>
<line x1="759.40" y1="581.80" x2="1244.2" y2="581.80" stroke="#000" stroke-width="3.5" stroke-linecap="round" stroke-dasharray="0 9.888"/>
<line x1="749.40" y1="580.20" x2="749.40" y2="913.00" stroke="#000" stroke-width="3.4"/>
<line x1="747.70" y1="911.30" x2="1245.60" y2="911.30" stroke="#000" stroke-width="3.4"/>
<line x1="739.90" y1="581.80" x2="749.40" y2="581.80" stroke="#000" stroke-width="3.2"/>
<text x="736.80" y="589.60" text-anchor="end" font-size="25" font-weight="bold">0</text>
<line x1="739.90" y1="664.17" x2="749.40" y2="664.17" stroke="#000" stroke-width="3.2"/>
<text x="736.80" y="671.97" text-anchor="end" font-size="25" font-weight="bold">-10</text>
<line x1="739.90" y1="746.55" x2="749.40" y2="746.55" stroke="#000" stroke-width="3.2"/>
<text x="736.80" y="754.35" text-anchor="end" font-size="25" font-weight="bold">-20</text>
<line x1="739.90" y1="828.92" x2="749.40" y2="828.92" stroke="#000" stroke-width="3.2"/>
<text x="736.80" y="836.72" text-anchor="end" font-size="25" font-weight="bold">-30</text>
<line x1="739.90" y1="911.30" x2="749.40" y2="911.30" stroke="#000" stroke-width="3.2"/>
<text x="736.80" y="919.10" text-anchor="end" font-size="25" font-weight="bold">-40</text>
<text transform="translate(848.00,946.10) scale(0.94,1)" text-anchor="middle" font-size="25.5" font-weight="bold">T0</text>
<text transform="translate(995.70,946.10) scale(0.94,1)" text-anchor="middle" font-size="25.5" font-weight="bold">T1</text>
<text transform="translate(1145.00,946.10) scale(0.94,1)" text-anchor="middle" font-size="25.5" font-weight="bold">T2</text>
<text x="996.65" y="987.60" text-anchor="middle" font-size="27.6" font-weight="bold" textLength="135.3" lengthAdjust="spacingAndGlyphs">Time point</text>
<text transform="translate(687.90,745.50) rotate(-90)" text-anchor="middle" font-size="27.6" font-weight="bold" textLength="128.5" lengthAdjust="spacingAndGlyphs">LAScd ED</text>
<text transform="translate(661.00,577.80) scale(0.955,1)" font-size="42.2" font-weight="bold">E</text>
<circle cx="838.4" cy="622.3" r="6.6"/>
<circle cx="858.0" cy="638.5" r="6.6"/>
<circle cx="828.5" cy="647.7" r="6.6"/>
<circle cx="807.2" cy="664.1" r="6.6"/>
<circle cx="848.1" cy="661.9" r="6.6"/>
<circle cx="868.0" cy="658.5" r="6.6"/>
<circle cx="823.4" cy="674.3" r="6.6"/>
<circle cx="839.6" cy="676.4" r="6.6"/>
<circle cx="872.8" cy="676.4" r="6.6"/>
<circle cx="889.5" cy="672.5" r="6.6"/>
<circle cx="856.6" cy="683.2" r="6.6"/>
<circle cx="809.7" cy="688.8" r="6.6"/>
<circle cx="817.4" cy="693.4" r="6.6"/>
<circle cx="825.4" cy="700.3" r="6.6"/>
<circle cx="833.3" cy="701.1" r="6.6"/>
<circle cx="840.4" cy="706.2" r="6.6"/>
<circle cx="847.2" cy="707.9" r="6.6"/>
<circle cx="855.8" cy="707.1" r="6.6"/>
<circle cx="863.4" cy="703.7" r="6.6"/>
<circle cx="871.4" cy="701.1" r="6.6"/>
<circle cx="879.6" cy="698.2" r="6.6"/>
<circle cx="886.8" cy="688.8" r="6.6"/>
<circle cx="828.5" cy="715.9" r="6.6"/>
<circle cx="868.0" cy="715.6" r="6.6"/>
<circle cx="848.1" cy="728.9" r="6.6"/>
<circle cx="838.4" cy="735.7" r="6.6"/>
<circle cx="858.3" cy="734.7" r="6.6"/>
<circle cx="879.6" cy="738.1" r="6.6"/>
<circle cx="816.5" cy="743.7" r="6.6"/>
<circle cx="829.3" cy="747.1" r="6.6"/>
<circle cx="841.3" cy="752.3" r="6.6"/>
<circle cx="854.6" cy="748.0" r="6.6"/>
<circle cx="867.4" cy="746.0" r="6.6"/>
<circle cx="818.8" cy="754.8" r="6.6"/>
<circle cx="877.9" cy="761.6" r="6.6"/>
<circle cx="838.4" cy="771.0" r="6.6"/>
<circle cx="858.0" cy="772.2" r="6.6"/>
<circle cx="818.6" cy="789.6" r="6.6"/>
<circle cx="877.9" cy="785.4" r="6.6"/>
<circle cx="838.3" cy="801.4" r="6.6"/>
<circle cx="858.0" cy="798.6" r="6.6"/>
<circle cx="818.6" cy="815.0" r="6.6"/>
<circle cx="887.6" cy="819.0" r="6.6"/>
<circle cx="838.3" cy="827.3" r="6.6"/>
<circle cx="868.0" cy="827.3" r="6.6"/>
<circle cx="858.0" cy="841.4" r="6.6"/>
<circle cx="838.3" cy="856.2" r="6.6"/>
<circle cx="996.5" cy="636.5" r="6.6"/>
<circle cx="986.8" cy="651.8" r="6.6"/>
<circle cx="1006.4" cy="666.7" r="6.6"/>
<circle cx="1016.4" cy="664.1" r="6.6"/>
<circle cx="963.6" cy="680.0" r="6.6"/>
<circle cx="978.6" cy="677.7" r="6.6"/>
<circle cx="1005.0" cy="681.5" r="6.6"/>
<circle cx="1029.7" cy="679.4" r="6.6"/>
<circle cx="961.5" cy="690.5" r="6.6"/>
<circle cx="971.8" cy="691.7" r="6.6"/>
<circle cx="986.8" cy="688.3" r="6.6"/>
<circle cx="1006.4" cy="689.7" r="6.6"/>
<circle cx="1021.2" cy="693.9" r="6.6"/>
<circle cx="1031.5" cy="690.5" r="6.6"/>
<circle cx="981.2" cy="699.9" r="6.6"/>
<circle cx="991.0" cy="705.0" r="6.6"/>
<circle cx="1001.6" cy="708.1" r="6.6"/>
<circle cx="1011.5" cy="701.6" r="6.6"/>
<circle cx="958.1" cy="721.2" r="6.6"/>
<circle cx="1034.9" cy="721.2" r="6.6"/>
<circle cx="965.8" cy="728.0" r="6.6"/>
<circle cx="972.6" cy="732.0" r="6.6"/>
<circle cx="980.8" cy="732.3" r="6.6"/>
<circle cx="988.8" cy="736.6" r="6.6"/>
<circle cx="997.4" cy="739.1" r="6.6"/>
<circle cx="1003.3" cy="737.4" r="6.6"/>
<circle cx="1011.8" cy="733.2" r="6.6"/>
<circle cx="1019.5" cy="732.0" r="6.6"/>
<circle cx="1027.2" cy="729.7" r="6.6"/>
<circle cx="955.2" cy="740.8" r="6.6"/>
<circle cx="971.8" cy="756.5" r="6.6"/>
<circle cx="988.0" cy="758.2" r="6.6"/>
<circle cx="1006.4" cy="753.1" r="6.6"/>
<circle cx="1005.0" cy="759.9" r="6.6"/>
<circle cx="1029.7" cy="757.0" r="6.6"/>
<circle cx="955.2" cy="772.9" r="6.6"/>
<circle cx="971.8" cy="779.7" r="6.6"/>
<circle cx="1021.2" cy="773.7" r="6.6"/>
<circle cx="1037.8" cy="772.9" r="6.6"/>
<circle cx="988.0" cy="790.3" r="6.6"/>
<circle cx="1004.7" cy="787.2" r="6.6"/>
<circle cx="976.9" cy="820.9" r="6.6"/>
<circle cx="996.5" cy="822.0" r="6.6"/>
<circle cx="1016.4" cy="812.6" r="6.6"/>
<circle cx="996.5" cy="893.2" r="6.6"/>
<circle cx="1144.8" cy="643.6" r="6.6"/>
<circle cx="1115.3" cy="656.1" r="6.6"/>
<circle cx="1164.7" cy="655.2" r="6.6"/>
<circle cx="1144.8" cy="664.1" r="6.6"/>
<circle cx="1125.2" cy="672.1" r="6.6"/>
<circle cx="1144.8" cy="685.4" r="6.6"/>
<circle cx="1174.3" cy="682.9" r="6.6"/>
<circle cx="1105.2" cy="690.5" r="6.6"/>
<circle cx="1112.1" cy="691.4" r="6.6"/>
<circle cx="1118.4" cy="695.6" r="6.6"/>
<circle cx="1125.2" cy="697.4" r="6.6"/>
<circle cx="1131.2" cy="701.6" r="6.6"/>
<circle cx="1138.0" cy="703.7" r="6.6"/>
<circle cx="1144.8" cy="708.1" r="6.6"/>
<circle cx="1151.6" cy="703.3" r="6.6"/>
<circle cx="1158.1" cy="699.9" r="6.6"/>
<circle cx="1165.3" cy="695.6" r="6.6"/>
<circle cx="1171.2" cy="692.7" r="6.6"/>
<circle cx="1178.0" cy="690.5" r="6.6"/>
<circle cx="1184.9" cy="688.8" r="6.6"/>
<circle cx="1105.2" cy="713.0" r="6.6"/>
<circle cx="1115.3" cy="718.7" r="6.6"/>
<circle cx="1125.2" cy="719.5" r="6.6"/>
<circle cx="1134.6" cy="726.9" r="6.6"/>
<circle cx="1144.8" cy="732.0" r="6.6"/>
<circle cx="1155.0" cy="730.6" r="6.6"/>
<circle cx="1164.7" cy="723.4" r="6.6"/>
<circle cx="1174.6" cy="718.7" r="6.6"/>
<circle cx="1184.0" cy="718.7" r="6.6"/>
<circle cx="1134.9" cy="743.4" r="6.6"/>
<circle cx="1164.7" cy="745.6" r="6.6"/>
<circle cx="1184.4" cy="741.7" r="6.6"/>
<circle cx="1115.3" cy="757.0" r="6.6"/>
<circle cx="1144.8" cy="758.2" r="6.6"/>
<circle cx="1105.2" cy="766.4" r="6.6"/>
<circle cx="1125.2" cy="771.2" r="6.6"/>
<circle cx="1184.4" cy="767.3" r="6.6"/>
<circle cx="1164.7" cy="781.4" r="6.6"/>
<circle cx="1144.8" cy="785.2" r="6.6"/>
<circle cx="1115.3" cy="791.6" r="6.6"/>
<circle cx="1134.9" cy="797.9" r="6.6"/>
<circle cx="1174.6" cy="797.9" r="6.6"/>
<circle cx="1154.8" cy="809.6" r="6.6"/>
<circle cx="1134.9" cy="839.0" r="6.6"/>
<circle cx="1154.8" cy="836.5" r="6.6"/>
<path d="M799.1 730.1H897.1M823.6 672.6H872.6M823.6 787.6H872.6M848.1 672.6V787.6" stroke="#ff0000" stroke-width="3.1" fill="none"/>
<path d="M947.5 730.3H1045.5M972.0 679.4H1021.0M972.0 780.9H1021.0M996.5 679.4V780.9" stroke="#ff0000" stroke-width="3.1" fill="none"/>
<path d="M1095.8 727.2H1193.8M1120.3 679.4H1169.3M1120.3 774.6H1169.3M1144.8 679.4V774.6" stroke="#ff0000" stroke-width="3.1" fill="none"/>
<line x1="1415.20" y1="582.40" x2="1899.8" y2="582.40" stroke="#000" stroke-width="3.5" stroke-linecap="round" stroke-dasharray="0 9.888"/>
<line x1="1405.00" y1="580.80" x2="1405.00" y2="913.30" stroke="#000" stroke-width="3.4"/>
<line x1="1403.30" y1="911.60" x2="1900.80" y2="911.60" stroke="#000" stroke-width="3.4"/>
<line x1="1395.50" y1="582.40" x2="1405.00" y2="582.40" stroke="#000" stroke-width="3.2"/>
<text x="1392.40" y="590.20" text-anchor="end" font-size="25" font-weight="bold">0</text>
<line x1="1395.50" y1="664.70" x2="1405.00" y2="664.70" stroke="#000" stroke-width="3.2"/>
<text x="1392.40" y="672.50" text-anchor="end" font-size="25" font-weight="bold">-10</text>
<line x1="1395.50" y1="747.00" x2="1405.00" y2="747.00" stroke="#000" stroke-width="3.2"/>
<text x="1392.40" y="754.80" text-anchor="end" font-size="25" font-weight="bold">-20</text>
<line x1="1395.50" y1="829.30" x2="1405.00" y2="829.30" stroke="#000" stroke-width="3.2"/>
<text x="1392.40" y="837.10" text-anchor="end" font-size="25" font-weight="bold">-30</text>
<line x1="1395.50" y1="911.60" x2="1405.00" y2="911.60" stroke="#000" stroke-width="3.2"/>
<text x="1392.40" y="919.40" text-anchor="end" font-size="25" font-weight="bold">-40</text>
<text transform="translate(1504.00,946.40) scale(0.94,1)" text-anchor="middle" font-size="25.5" font-weight="bold">T0</text>
<text transform="translate(1651.00,946.40) scale(0.94,1)" text-anchor="middle" font-size="25.5" font-weight="bold">T1</text>
<text transform="translate(1800.40,946.40) scale(0.94,1)" text-anchor="middle" font-size="25.5" font-weight="bold">T2</text>
<text x="1652.15" y="986.80" text-anchor="middle" font-size="27.6" font-weight="bold" textLength="134.9" lengthAdjust="spacingAndGlyphs">Time point</text>
<text transform="translate(1344.40,746.40) rotate(-90)" text-anchor="middle" font-size="27.6" font-weight="bold" textLength="123.1" lengthAdjust="spacingAndGlyphs">LASct ED</text>
<text transform="translate(1313.00,577.80) scale(0.955,1)" font-size="42.2" font-weight="bold">F</text>
<circle cx="1494.1" cy="618.4" r="6.6"/>
<circle cx="1513.8" cy="620.1" r="6.6"/>
<circle cx="1464.7" cy="638.9" r="6.6"/>
<circle cx="1484.3" cy="649.8" r="6.6"/>
<circle cx="1543.5" cy="648.9" r="6.6"/>
<circle cx="1503.9" cy="658.5" r="6.6"/>
<circle cx="1523.6" cy="654.6" r="6.6"/>
<circle cx="1464.7" cy="670.3" r="6.6"/>
<circle cx="1484.3" cy="676.2" r="6.6"/>
<circle cx="1494.1" cy="682.7" r="6.6"/>
<circle cx="1513.8" cy="681.8" r="6.6"/>
<circle cx="1523.6" cy="679.3" r="6.6"/>
<circle cx="1543.5" cy="673.3" r="6.6"/>
<circle cx="1464.7" cy="686.1" r="6.6"/>
<circle cx="1472.4" cy="688.7" r="6.6"/>
<circle cx="1485.2" cy="694.6" r="6.6"/>
<circle cx="1492.9" cy="697.2" r="6.6"/>
<circle cx="1501.4" cy="697.2" r="6.6"/>
<circle cx="1511.6" cy="695.5" r="6.6"/>
<circle cx="1521.8" cy="692.9" r="6.6"/>
<circle cx="1536.3" cy="687.0" r="6.6"/>
<circle cx="1543.5" cy="684.4" r="6.6"/>
<circle cx="1468.1" cy="704.9" r="6.6"/>
<circle cx="1478.9" cy="710.0" r="6.6"/>
<circle cx="1489.1" cy="712.5" r="6.6"/>
<circle cx="1493.7" cy="703.2" r="6.6"/>
<circle cx="1498.8" cy="715.1" r="6.6"/>
<circle cx="1513.8" cy="703.2" r="6.6"/>
<circle cx="1518.9" cy="712.5" r="6.6"/>
<circle cx="1528.7" cy="710.8" r="6.6"/>
<circle cx="1538.6" cy="706.6" r="6.6"/>
<circle cx="1464.7" cy="722.8" r="6.6"/>
<circle cx="1509.4" cy="721.4" r="6.6"/>
<circle cx="1543.5" cy="728.2" r="6.6"/>
<circle cx="1474.1" cy="734.7" r="6.6"/>
<circle cx="1484.3" cy="739.0" r="6.6"/>
<circle cx="1494.2" cy="739.8" r="6.6"/>
<circle cx="1503.9" cy="742.4" r="6.6"/>
<circle cx="1513.8" cy="741.2" r="6.6"/>
<circle cx="1523.6" cy="739.0" r="6.6"/>
<circle cx="1533.4" cy="737.8" r="6.6"/>
<circle cx="1494.1" cy="756.0" r="6.6"/>
<circle cx="1513.8" cy="762.8" r="6.6"/>
<circle cx="1503.7" cy="820.5" r="6.6"/>
<circle cx="1642.5" cy="604.5" r="6.6"/>
<circle cx="1662.1" cy="612.7" r="6.6"/>
<circle cx="1632.4" cy="622.4" r="6.6"/>
<circle cx="1672.0" cy="633.5" r="6.6"/>
<circle cx="1652.4" cy="639.8" r="6.6"/>
<circle cx="1642.5" cy="644.6" r="6.6"/>
<circle cx="1662.1" cy="646.3" r="6.6"/>
<circle cx="1620.5" cy="648.0" r="6.6"/>
<circle cx="1683.9" cy="652.2" r="6.6"/>
<circle cx="1633.3" cy="657.4" r="6.6"/>
<circle cx="1645.5" cy="661.6" r="6.6"/>
<circle cx="1658.3" cy="662.5" r="6.6"/>
<circle cx="1671.1" cy="659.6" r="6.6"/>
<circle cx="1642.5" cy="668.8" r="6.6"/>
<circle cx="1662.1" cy="668.1" r="6.6"/>
<circle cx="1691.6" cy="669.3" r="6.6"/>
<circle cx="1612.3" cy="676.4" r="6.6"/>
<circle cx="1619.1" cy="677.3" r="6.6"/>
<circle cx="1625.1" cy="681.2" r="6.6"/>
<circle cx="1631.0" cy="682.9" r="6.6"/>
<circle cx="1637.0" cy="683.4" r="6.6"/>
<circle cx="1643.0" cy="685.8" r="6.6"/>
<circle cx="1649.8" cy="686.3" r="6.6"/>
<circle cx="1656.6" cy="684.6" r="6.6"/>
<circle cx="1663.4" cy="682.1" r="6.6"/>
<circle cx="1670.3" cy="680.4" r="6.6"/>
<circle cx="1677.9" cy="678.7" r="6.6"/>
<circle cx="1685.3" cy="676.6" r="6.6"/>
<circle cx="1620.5" cy="697.4" r="6.6"/>
<circle cx="1633.3" cy="701.7" r="6.6"/>
<circle cx="1645.5" cy="701.7" r="6.6"/>
<circle cx="1662.1" cy="693.2" r="6.6"/>
<circle cx="1658.7" cy="706.8" r="6.6"/>
<circle cx="1671.1" cy="701.7" r="6.6"/>
<circle cx="1683.6" cy="699.1" r="6.6"/>
<circle cx="1612.8" cy="711.6" r="6.6"/>
<circle cx="1662.1" cy="714.0" r="6.6"/>
<circle cx="1681.9" cy="710.7" r="6.6"/>
<circle cx="1632.4" cy="728.1" r="6.6"/>
<circle cx="1642.5" cy="734.1" r="6.6"/>
<circle cx="1662.1" cy="751.6" r="6.6"/>
<circle cx="1632.4" cy="761.1" r="6.6"/>
<circle cx="1672.0" cy="770.0" r="6.6"/>
<circle cx="1652.2" cy="778.4" r="6.6"/>
<circle cx="1800.3" cy="599.7" r="6.6"/>
<circle cx="1790.4" cy="627.5" r="6.6"/>
<circle cx="1810.0" cy="636.4" r="6.6"/>
<circle cx="1760.6" cy="644.6" r="6.6"/>
<circle cx="1770.5" cy="651.4" r="6.6"/>
<circle cx="1829.6" cy="653.4" r="6.6"/>
<circle cx="1839.9" cy="650.5" r="6.6"/>
<circle cx="1780.7" cy="659.9" r="6.6"/>
<circle cx="1790.4" cy="661.3" r="6.6"/>
<circle cx="1800.3" cy="662.5" r="6.6"/>
<circle cx="1810.0" cy="663.7" r="6.6"/>
<circle cx="1819.7" cy="661.3" r="6.6"/>
<circle cx="1838.2" cy="667.1" r="6.6"/>
<circle cx="1761.4" cy="671.8" r="6.6"/>
<circle cx="1769.1" cy="677.0" r="6.6"/>
<circle cx="1777.3" cy="678.7" r="6.6"/>
<circle cx="1786.2" cy="679.5" r="6.6"/>
<circle cx="1793.8" cy="682.1" r="6.6"/>
<circle cx="1800.3" cy="685.5" r="6.6"/>
<circle cx="1808.0" cy="680.0" r="6.6"/>
<circle cx="1816.0" cy="678.7" r="6.6"/>
<circle cx="1823.3" cy="678.7" r="6.6"/>
<circle cx="1831.3" cy="675.3" r="6.6"/>
<circle cx="1760.9" cy="688.9" r="6.6"/>
<circle cx="1780.7" cy="694.4" r="6.6"/>
<circle cx="1810.0" cy="690.3" r="6.6"/>
<circle cx="1830.1" cy="699.1" r="6.6"/>
<circle cx="1800.3" cy="708.0" r="6.6"/>
<circle cx="1760.6" cy="714.1" r="6.6"/>
<circle cx="1770.5" cy="717.0" r="6.6"/>
<circle cx="1780.7" cy="721.0" r="6.6"/>
<circle cx="1790.4" cy="726.4" r="6.6"/>
<circle cx="1800.3" cy="730.7" r="6.6"/>
<circle cx="1810.0" cy="722.1" r="6.6"/>
<circle cx="1820.3" cy="718.2" r="6.6"/>
<circle cx="1829.6" cy="717.0" r="6.6"/>
<circle cx="1839.9" cy="711.4" r="6.6"/>
<circle cx="1780.7" cy="735.8" r="6.6"/>
<circle cx="1820.3" cy="737.0" r="6.6"/>
<circle cx="1800.3" cy="753.4" r="6.6"/>
<circle cx="1790.4" cy="756.6" r="6.6"/>
<circle cx="1810.3" cy="775.9" r="6.6"/>
<circle cx="1780.6" cy="798.0" r="6.6"/>
<circle cx="1800.4" cy="803.8" r="6.6"/>
<circle cx="1820.1" cy="803.0" r="6.6"/>
<path d="M1454.9 700.9H1552.9M1479.4 663.4H1528.4M1479.4 738.1H1528.4M1503.9 663.4V738.1" stroke="#ff0000" stroke-width="3.1" fill="none"/>
<path d="M1603.3 684.1H1701.3M1627.8 646.3H1676.8M1627.8 721.6H1676.8M1652.3 646.3V721.6" stroke="#ff0000" stroke-width="3.1" fill="none"/>
<path d="M1751.3 696.9H1849.3M1775.8 651.0H1824.8M1775.8 742.6H1824.8M1800.3 651.0V742.6" stroke="#ff0000" stroke-width="3.1" fill="none"/>
</svg></body></html>
